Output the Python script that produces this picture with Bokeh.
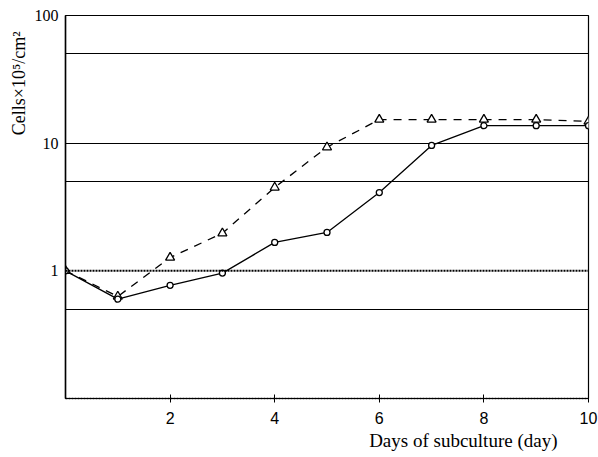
from bokeh.plotting import figure
from bokeh.models import FixedTicker, Span, Range1d, Title, CustomJSTickFormatter
from bokeh.embed import file_html
from bokeh.resources import INLINE

days = [0, 1, 2, 3, 4, 5, 6, 7, 8, 9, 10]
cells_circle = [1.0, 0.6, 0.77, 0.96, 1.67, 2.0, 4.1, 9.6, 13.7, 13.7, 13.7]
cells_triangle = [1.0, 0.63, 1.27, 1.97, 4.5, 9.3, 15.3, 15.3, 15.3, 15.3, 14.8]
x_ticks = [2, 4, 6, 8, 10]
y_ticks = [1, 10, 100]
grid_values = [0.5, 5, 10, 50, 100]
dotted_value = 1
y_title = "Cells\u00d710\u2075/cm\u00b2"
x_title = "Days of subculture (day)"

p = figure(width=598, height=457, y_axis_type="log",
           x_range=Range1d(0, 10), y_range=Range1d(0.1, 100),
           output_backend="svg", toolbar_location=None)
p.min_border_left = 65
p.min_border_right = 10
p.min_border_top = 15
p.min_border_bottom = 59
p.background_fill_color = "white"
p.border_fill_color = "white"
p.outline_line_color = "black"
p.outline_line_width = 1.2

p.xgrid.visible = False
p.ygrid.ticker = FixedTicker(ticks=grid_values)
p.ygrid.grid_line_color = "black"
p.ygrid.grid_line_width = 1.2
p.ygrid.grid_line_alpha = 1.0
p.add_layout(Span(location=dotted_value, dimension="width", line_color="black",
                  line_width=2, line_dash="2 1"))

p.xaxis.ticker = FixedTicker(ticks=x_ticks)
p.xaxis.major_tick_in = 4
p.xaxis.major_tick_out = 4
p.xaxis.minor_tick_line_color = None
p.xaxis.axis_line_color = "black"
p.xaxis.axis_line_width = 1.5
p.xaxis.axis_line_dash = "2 1"
p.xaxis.major_label_text_font = "Liberation Sans"
p.xaxis.major_label_text_font_size = "16px"
p.xaxis.major_label_text_color = "black"
p.xaxis.major_label_standoff = 9

p.yaxis.ticker = FixedTicker(ticks=y_ticks)
p.yaxis.formatter = CustomJSTickFormatter(code="return String(tick);")
p.yaxis.major_tick_line_color = None
p.yaxis.major_tick_in = 0
p.yaxis.major_tick_out = 0
p.yaxis.minor_tick_line_color = None
p.yaxis.axis_line_color = "black"
p.yaxis.axis_line_width = 1.5
p.yaxis.major_label_text_font = "Liberation Serif"
p.yaxis.major_label_text_font_size = "16px"
p.yaxis.major_label_text_color = "black"
p.yaxis.major_label_standoff = 7
# label sits in the upper part of the axis as in the original figure
p.yaxis.axis_label = "\u00a0" * 55 + y_title
p.yaxis.axis_label_text_font = "Liberation Serif"
p.yaxis.axis_label_text_font_size = "18px"
p.yaxis.axis_label_text_font_style = "normal"
p.yaxis.axis_label_text_color = "black"
p.yaxis.axis_label_standoff = 3

p.line(days, cells_triangle, line_color="black", line_width=1.3, line_dash="8 7")
p.line(days, cells_circle, line_color="black", line_width=1.3)
p.scatter(days, cells_triangle, marker="triangle", size=9, fill_color="white",
          line_color="black", line_width=1.3)
p.scatter(days, cells_circle, marker="circle", size=6, fill_color="white",
          line_color="black", line_width=1.3)

p.add_layout(Title(text=x_title, align="right", offset=31,
                   text_font="Liberation Serif", text_font_size="19px",
                   text_font_style="normal", text_color="black", standoff=2), "below")

open("out.html", "w").write(file_html(p, INLINE))
